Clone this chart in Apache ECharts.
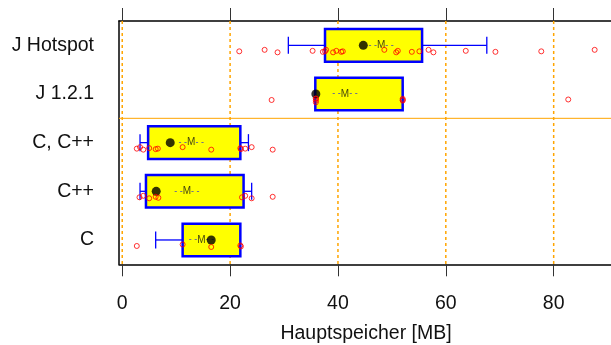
<!DOCTYPE html>
<html><head><meta charset="utf-8">
<script src="https://cdn.jsdelivr.net/npm/echarts@6/dist/echarts.min.js"></script>
<style>html,body{margin:0;padding:0;background:#fff}#c{width:611px;height:345px}</style>
</head><body><div id="c"></div>
<script>
const categories = ['C', 'C++', 'C, C++', 'J 1.2.1', 'J Hotspot'];
const whiskerLow    = [6.2, 3.3, 3.3, 35.8, 30.8];
const lowerQuartile = [11.2, 4.4, 4.8, 35.8, 37.6];
const upperQuartile = [21.9, 22.5, 21.9, 52.0, 55.6];
const whiskerHigh   = [21.9, 24.0, 23.4, 52.0, 67.6];
const dotValues = [16.5, 6.3, 8.9, 35.9, 44.7];
const mValues   = [14.7, 12.0, 12.8, 41.3, 48.0];
const pointsC        = [2.7, 11.2, 16.5, 21.9, 22.0];
const pointsCpp      = [3.2, 3.9, 5.0, 6.2, 6.7, 22.2, 22.8, 24.0, 27.9];
const pointsCCpp     = [2.7, 3.3, 3.9, 5.0, 6.2, 6.6, 11.2, 16.5, 21.9, 22.0, 22.8, 24.0, 27.9];
const pointsJ121     = [27.7, 35.9, 35.9, 35.9, 35.9, 52.0, 52.0, 52.0, 82.7];
const pointsJHotspot = [21.7, 26.4, 28.8, 35.3, 37.2, 37.6, 37.8, 39.1, 39.7, 40.6, 40.9, 48.6, 50.8, 51.1, 53.7, 55.1, 56.8, 57.7, 63.7, 69.2, 77.7, 87.6];
const xTicks = [0, 20, 40, 60, 80];
const groupDividerAbove = 'C, C++';
const xMin = -0.6, xMax = 91;

const allPoints = [pointsC, pointsCpp, pointsCCpp, pointsJ121, pointsJHotspot];
const jitter = [6, 4.5, 7, 5.5, 6.5];
const pointData = [];
allPoints.forEach((arr, ci) => {
  const seen = {};
  arr.forEach((v, i) => {
    const k = String(v);
    seen[k] = (seen[k] || 0) + 1;
    const dup = seen[k] - 1;
    const off = dup > 0 ? 3 + dup * 1.8 : jitter[i % jitter.length];
    pointData.push({ value: [v, ci], symbolOffset: [0, off] });
  });
});

const font = 'Liberation Sans, Arial, Helvetica, sans-serif';
const chart = echarts.init(document.getElementById('c'), null, { renderer: 'canvas' });
chart.setOption({
  animation: false,
  backgroundColor: '#fff',
  grid: { left: 119, top: 21, width: 494, height: 243.3, outerBoundsMode: 'none', containLabel: false },
  xAxis: [{
    type: 'value', min: xMin, max: xMax, position: 'bottom',
    axisLine: { show: true, lineStyle: { color: '#000', width: 1.5 } },
    axisTick: { show: true, length: 12, customValues: xTicks, lineStyle: { color: '#333', width: 1 } },
    axisLabel: { customValues: xTicks, fontSize: 19.5, color: '#111', margin: 29, fontFamily: font },
    splitLine: { show: false },
    name: 'Hauptspeicher [MB]', nameLocation: 'middle', nameGap: 59,
    nameTextStyle: { fontSize: 19.5, color: '#111', fontFamily: font }
  }, {
    type: 'value', min: xMin, max: xMax, position: 'top',
    axisLine: { show: true, lineStyle: { color: '#000', width: 1.5 } },
    axisTick: { show: true, length: 13, customValues: xTicks, lineStyle: { color: '#333', width: 1 } },
    axisLabel: { show: false },
    splitLine: { show: false }
  }],
  yAxis: {
    type: 'category', data: categories, boundaryGap: true,
    axisLine: { show: true, onZero: false, lineStyle: { color: '#000', width: 1.5 } },
    axisTick: { show: false },
    axisLabel: { fontSize: 19.5, color: '#111', margin: 25, fontFamily: font },
    splitLine: { show: false }
  },
  series: [{
    type: 'custom', z: 1, silent: true,
    data: xTicks.map(v => [v]),
    encode: { x: 0 },
    renderItem: (params, api) => {
      const cs = params.coordSys;
      const x = api.coord([api.value(0), 0])[0];
      const children = [{ type: 'line', shape: { x1: x, y1: cs.y, x2: x, y2: cs.y + cs.height },
        style: { stroke: '#FFA500', lineWidth: 1.5, lineDash: [3, 3] } }];
      if (params.dataIndex === 0) {
        const ci = categories.indexOf(groupDividerAbove);
        const band = api.size([0, 1])[1];
        const y = api.coord([0, ci])[1] - band / 2;
        children.push({ type: 'line', shape: { x1: cs.x, y1: y, x2: cs.x + cs.width, y2: y },
          style: { stroke: '#FFA500', lineWidth: 1 } });
      }
      return { type: 'group', children };
    }
  }, {
    type: 'custom', z: 2,
    data: categories.map((c, i) => [i, whiskerLow[i], lowerQuartile[i], upperQuartile[i], whiskerHigh[i]]),
    encode: { x: [1, 2, 3, 4], y: 0 },
    renderItem: (params, api) => {
      const ci = api.value(0);
      const lo = api.coord([api.value(1), ci]);
      const q1 = api.coord([api.value(2), ci]);
      const q3 = api.coord([api.value(3), ci]);
      const hi = api.coord([api.value(4), ci]);
      const band = api.size([0, 1])[1];
      const bh = band * 0.67, ch = band * 0.35;
      const y = q1[1];
      const ws = { stroke: '#0000FF', lineWidth: 1.3 };
      return { type: 'group', children: [
        { type: 'line', shape: { x1: lo[0], y1: y, x2: q1[0], y2: y }, style: ws },
        { type: 'line', shape: { x1: q3[0], y1: y, x2: hi[0], y2: y }, style: ws },
        { type: 'line', shape: { x1: lo[0], y1: y - ch / 2, x2: lo[0], y2: y + ch / 2 }, style: ws },
        { type: 'line', shape: { x1: hi[0], y1: y - ch / 2, x2: hi[0], y2: y + ch / 2 }, style: ws },
        { type: 'rect', shape: { x: q1[0], y: y - bh / 2, width: q3[0] - q1[0], height: bh },
          style: { fill: '#FFFF00', stroke: '#0000FF', lineWidth: 2.5 } }
      ] };
    }
  }, {
    type: 'scatter', z: 3, symbolSize: 0, symbol: 'circle',
    itemStyle: { color: 'rgba(0,0,0,0)' },
    labelLayout: { hideOverlap: false },
    data: mValues.map((v, i) => [v, i]),
    label: {
      show: true, position: 'inside', offset: [0, -5],
      formatter: '{d|- -}{m|M}{d|- -}',
      rich: {
        d: { color: '#0000FF', fontSize: 9, fontFamily: font },
        m: { color: '#111', fontSize: 10, fontFamily: font }
      }
    }
  }, {
    type: 'scatter', z: 4, symbol: 'circle', symbolSize: 9,
    itemStyle: { color: '#000' },
    data: dotValues.map((v, i) => [v, i])
  }, {
    type: 'scatter', z: 5, symbol: 'circle', symbolSize: 5,
    itemStyle: { color: 'rgba(0,0,0,0)', borderColor: '#FF0000', borderWidth: 1 },
    data: pointData
  }]
});
</script>
</body></html>
